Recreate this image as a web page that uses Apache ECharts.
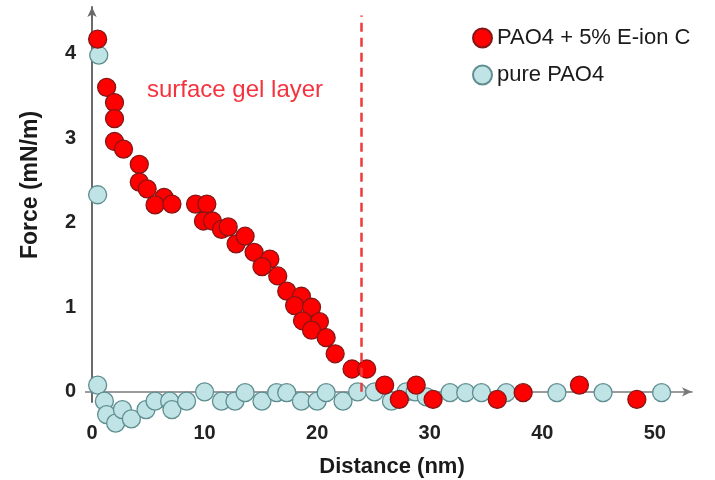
<!DOCTYPE html>
<html>
<head>
<meta charset="utf-8">
<script src="https://cdn.jsdelivr.net/npm/echarts@6/dist/echarts.min.js"></script>
<style>
  html, body { margin: 0; padding: 0; background: #fff; }
  #chart { width: 715px; height: 480px; }
</style>
</head>
<body>
<div id="chart"></div>
<script>
// distance (nm) and force (mN/m)
const gelDistance = [0.5, 1.3, 2.0, 2.0, 2.0, 2.8, 4.2, 4.2, 4.9, 6.4, 5.6, 7.1, 9.2, 10.2, 9.9, 10.7,
  11.5, 12.1, 12.8, 13.6, 14.4, 15.8, 15.1, 16.5, 17.3, 18.6, 18.0, 19.5, 18.7, 20.2, 19.5, 20.8,
  21.6, 23.1, 24.4, 26.0, 27.3, 28.8, 30.3, 36.0, 38.3, 43.3, 48.4];
const gelForce = [4.17, 3.60, 3.42, 3.23, 2.96, 2.87, 2.69, 2.48, 2.40, 2.30, 2.21, 2.22, 2.22, 2.22, 2.02, 2.02,
  1.92, 1.95, 1.75, 1.84, 1.65, 1.57, 1.48, 1.37, 1.19, 1.13, 1.02, 1.00, 0.84, 0.83, 0.73, 0.64,
  0.45, 0.27, 0.27, 0.08, -0.09, 0.08, -0.09, -0.09, -0.01, 0.08, -0.09];

const pureDistance = [0.6, 0.5, 0.5, 1.1, 1.3, 2.1, 2.7, 3.5, 4.8, 5.6, 6.9, 7.1, 8.4, 10.0, 11.5, 12.7,
  13.6, 15.1, 16.4, 17.3, 18.6, 20.0, 20.8, 22.3, 23.6, 25.1, 26.6, 27.9, 28.7, 29.7, 31.8, 33.2,
  34.6, 36.8, 41.3, 45.4, 50.6];
const pureForce = [3.98, 2.33, 0.08, -0.11, -0.27, -0.37, -0.21, -0.32, -0.21, -0.11, -0.11, -0.21, -0.11, 0.0, -0.11, -0.11,
  -0.01, -0.11, -0.01, -0.01, -0.11, -0.11, -0.01, -0.11, 0.0, 0.0, -0.11, 0.0, 0.0, -0.06, -0.01, -0.01,
  -0.01, -0.01, -0.01, -0.01, -0.01];

const xTicks = [0, 10, 20, 30, 40, 50];
const yTicks = [0, 1, 2, 3, 4];
const gelEdge = 23.9;

const seriesNames = ["PAO4 + 5% E-ion C", "pure PAO4"];

const font = "Liberation Sans, Arial, sans-serif";

function pairs(xs, ys) {
  return xs.map((x, i) => [x, ys[i]]);
}

const chart = echarts.init(document.getElementById("chart"));
chart.setOption({
  animation: false,
  grid: { left: 92, right: 23, top: 7, bottom: 78, outerBoundsMode: "none" },
  legend: {
    data: seriesNames,
    orient: "vertical",
    left: 467,
    top: 22,
    icon: "circle",
    itemWidth: 19,
    itemHeight: 19,
    itemGap: 15,
    textStyle: { fontFamily: font, fontSize: 22, color: "#1a1a1a" },
  },
  xAxis: {
    type: "value",
    min: 0,
    max: 53.3,
    interval: 10,
    name: "Distance (nm)",
    nameLocation: "middle",
    nameGap: 54,
    nameMoveOverlap: false,
    nameTextStyle: { fontFamily: font, fontSize: 22, fontWeight: "bold", color: "#1a1a1a" },
    axisLine: {
      onZero: true,
      symbol: ["none", "arrow"],
      symbolSize: [7, 10],
      lineStyle: { color: "#7a7a7a", width: 1.5 },
    },
    axisTick: { show: false },
    splitLine: { show: false },
    axisLabel: {
      customValues: xTicks,
      margin: 21,
      fontFamily: font,
      fontSize: 20,
      fontWeight: "bold",
      color: "#222",
    },
  },
  yAxis: {
    type: "value",
    min: -0.12,
    max: 4.55,
    axisLine: {
      symbol: ["none", "arrow"],
      symbolSize: [7, 10],
      lineStyle: { color: "#6a6a6a", width: 2 },
    },
    axisTick: { show: true, customValues: [0], length: 7, lineStyle: { color: "#7a7a7a", width: 1.5 } },
    splitLine: { show: false },
    axisLabel: {
      customValues: yTicks,
      margin: 16,
      fontFamily: font,
      fontSize: 20,
      fontWeight: "bold",
      color: "#222",
    },
  },
  graphic: [
    {
      type: "text",
      left: 147,
      top: 78,
      style: { text: "surface gel layer", fontFamily: font, fontSize: 24, fill: "#f5333f" },
    },
    {
      type: "text",
      x: 31,
      y: 185,
      rotation: Math.PI / 2,
      style: {
        text: "Force (mN/m)",
        fontFamily: font,
        fontSize: 23,
        fontWeight: "bold",
        fill: "#1a1a1a",
        align: "center",
        verticalAlign: "middle",
      },
    },
  ],
  series: [
    {
      name: seriesNames[1],
      type: "scatter",
      clip: false,
      symbol: "circle",
      symbolSize: 18,
      itemStyle: { color: "#c0e3e5", borderColor: "#5f8e90", borderWidth: 1.3, opacity: 1 },
      data: pairs(pureDistance, pureForce),
    },
    {
      name: seriesNames[0],
      type: "scatter",
      clip: false,
      symbol: "circle",
      symbolSize: 18,
      itemStyle: { color: "#ff0000", borderColor: "#861616", borderWidth: 1.3, opacity: 1 },
      data: pairs(gelDistance, gelForce),
      markLine: {
        silent: true,
        symbol: "none",
        label: { show: false },
        lineStyle: { color: "#f03a3a", type: [9, 6], width: 2.5 },
        data: [[{ coord: [gelEdge, 0] }, { coord: [gelEdge, 4.45] }]],
      },
    },
  ],
});
</script>
</body>
</html>
